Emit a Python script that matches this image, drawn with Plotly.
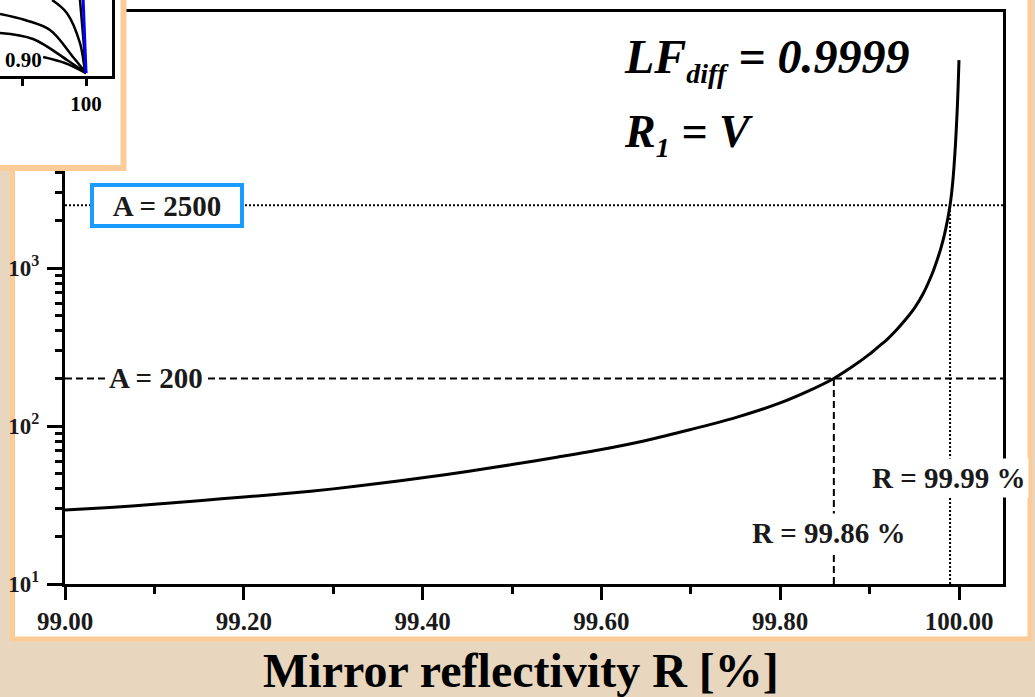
import plotly.graph_objects as go

W, H = 1035, 697

# ---------------- data ----------------
reflectivity = [99.00, 99.05, 99.10, 99.15, 99.20, 99.25, 99.30, 99.35, 99.40, 99.45,
                99.50, 99.55, 99.60, 99.65, 99.70, 99.75, 99.80, 99.83, 99.86, 99.88,
                99.90, 99.91, 99.92, 99.93, 99.94, 99.95, 99.96, 99.97, 99.975, 99.98,
                99.985, 99.99, 99.993, 99.996, 99.998, 99.999, 100.00]
amplification = [29.4, 30.5, 32, 33.7, 35.5, 37.5, 40, 43.2, 47, 51.5,
                 57, 63.5, 71, 81, 95, 113, 140, 165, 200, 236,
                 285, 318, 355, 405, 470, 555, 690, 920, 1100, 1350,
                 1750, 2500, 3500, 6000, 10000, 14000, 20700]

A_levels = [2500, 200]
A_labels = ["A = 2500", "A = 200"]
R_levels = [99.99, 99.86]
R_labels = ["R = 99.99 %", "R = 99.86 %"]

x_ticks = [99.0, 99.2, 99.4, 99.6, 99.8, 100.0]
x_ticktext = ["99.00", "99.20", "99.40", "99.60", "99.80", "100.00"]
y_ticks = [10, 100, 1000, 10000]
y_ticktext = ["10<sup>1</sup>", "10<sup>2</sup>", "10<sup>3</sup>", "10<sup>4</sup>"]
y_minor = [m * d for d in (10, 100, 1000, 10000) for m in range(2, 10)]

# inset (partial view of another chart)
inset_curves = {
    "a": ([94.7, 97.0, 99.06, 99.84, 100.0], [1.0, 0.822, 0.411, 0.042, 0.0]),
    "b": ([86.56, 90.47, 94.37, 97.97, 100.0], [0.808, 0.726, 0.589, 0.220, 0.0]),
    "c": ([86.56, 91.72, 97.03, 100.0], [0.548, 0.466, 0.179, 0.0]),
    "d": ([93.3, 96.7, 100.0], [0.220, 0.138, 0.0]),
    "e": ([99.06, 99.6, 100.0], [1.0, 0.45, 0.0]),
}
inset_blue = ([99.55, 100.0], [1.0, 0.0])

# ---------------- helpers ----------------
def px(x):
    return x / W

def py(y):
    return 1 - y / H

BG = "#E8D6BF"
ORANGE = "#FCCB98"
SERIF = "Liberation Serif"

fig = go.Figure()

# main curve
fig.add_trace(go.Scatter(x=reflectivity, y=amplification, mode="lines",
                         line=dict(color="black", width=3, shape="spline", smoothing=0.8),
                         xaxis="x", yaxis="y", hoverinfo="skip"))

# inset white box (covers the main axes in the top-left corner)
fig.add_trace(go.Scatter(x=[-5, 123.5, 123.5, -5, -5], y=[-5, -5, 168, 168, -5],
                         mode="lines", fill="toself", fillcolor="white",
                         line=dict(color=ORANGE, width=6), xaxis="x2", yaxis="y2",
                         hoverinfo="skip"))

# inset curves
for k, (xs, ys) in inset_curves.items():
    fig.add_trace(go.Scatter(x=xs, y=ys, mode="lines",
                             line=dict(color="black", width=2.5, shape="spline"),
                             xaxis="x3", yaxis="y3", hoverinfo="skip"))
fig.add_trace(go.Scatter(x=inset_blue[0], y=inset_blue[1], mode="lines",
                         line=dict(color="#0000FF", width=3), xaxis="x3", yaxis="y3",
                         hoverinfo="skip"))

# reference lines
shapes = []
# main white panel with orange frame
shapes.append(dict(type="rect", xref="paper", yref="paper",
                   x0=px(12.5), x1=px(1030), y0=py(639), y1=py(-3),
                   fillcolor="white", line=dict(color=ORANGE, width=5), layer="below"))
dash_styles = ["2px,2px", "7px,4px"]
for a, r, d in zip(A_levels, R_levels, dash_styles):
    shapes.append(dict(type="line", xref="x domain", yref="y", x0=0, x1=1, y0=a, y1=a,
                       line=dict(color="black", width=2, dash=d)))
    shapes.append(dict(type="line", xref="x", yref="y", x0=r, x1=r, y0=10, y1=a,
                       line=dict(color="black", width=2, dash=d)))

LBL = dict(family=SERIF, size=29, color="#1a1a1a", weight="bold")
annotations = []
# A = 2500 (blue box)
annotations.append(dict(xref="paper", yref="y", x=px(167), y=3.398,
                        text=A_labels[0], showarrow=False, xanchor="center", yanchor="middle",
                        font=LBL, bgcolor="white", bordercolor="#1A9BFF", borderwidth=4,
                        borderpad=2, width=142, height=33))
annotations.append(dict(xref="paper", yref="y", x=px(156), y=2.301,
                        text=A_labels[1], showarrow=False, xanchor="center", yanchor="middle",
                        font=LBL, bgcolor="white", borderpad=2))
annotations.append(dict(xref="paper", yref="paper", x=px(948), y=py(478),
                        text=R_labels[0], showarrow=False, xanchor="center", yanchor="middle",
                        font=LBL, bgcolor="white", borderpad=3))
annotations.append(dict(xref="paper", yref="paper", x=px(828), y=py(533),
                        text=R_labels[1], showarrow=False, xanchor="center", yanchor="middle",
                        font=LBL, bgcolor="white", borderpad=3))
# formulas
annotations.append(dict(xref="paper", yref="paper", x=px(622), y=py(59),
                        text="<b><i>LF<sub><span style='font-size:28px'>diff</span></sub> = 0.9999</i></b>",
                        showarrow=False, xanchor="left", yanchor="middle",
                        font=dict(family=SERIF, size=48, color="black")))
annotations.append(dict(xref="paper", yref="paper", x=px(622), y=py(134),
                        text="<b><i>R<sub><span style='font-size:28px'>1</span></sub> = V</i></b>",
                        showarrow=False, xanchor="left", yanchor="middle",
                        font=dict(family=SERIF, size=46, color="black")))
# inset label
annotations.append(dict(xref="paper", yref="paper", x=px(43), y=py(60),
                        text="<b>0.90</b>", showarrow=False, xanchor="right", yanchor="middle",
                        font=dict(family=SERIF, size=21, color="black"),
                        bgcolor="white", borderpad=0))
# axis title
annotations.append(dict(xref="paper", yref="paper", x=px(521), y=py(670),
                        text="<b>Mirror reflectivity R [%]</b>", showarrow=False,
                        xanchor="center", yanchor="middle",
                        font=dict(family=SERIF, size=48, color="black")))

fig.update_layout(
    width=W, height=H,
    margin=dict(l=0, r=0, t=0, b=0, autoexpand=False),
    paper_bgcolor=BG, plot_bgcolor="rgba(0,0,0,0)",
    showlegend=False,
    shapes=shapes,
    annotations=annotations,
    xaxis=dict(domain=[px(65), px(1003)], range=[99.0, 99.0 + 938 / 894], anchor="y",
               automargin=False,
               tickmode="array", tickvals=x_ticks, ticktext=x_ticktext,
               ticks="outside", ticklen=13, tickwidth=2.5, tickcolor="black",
               minor=dict(ticks="outside", tickmode="linear", tick0=99.0, dtick=0.1,
                          ticklen=7, tickwidth=2.5, tickcolor="black", showgrid=False),
               showline=True, linewidth=3, linecolor="black", mirror=True,
               showgrid=False, zeroline=False, ticklabelstandoff=0,
               tickfont=dict(family=SERIF, size=25, color="#1a1a1a", weight="bold")),
    yaxis=dict(domain=[py(584), py(12)], type="log", range=[1, 1 + 572 / 158], anchor="x",
               automargin=False,
               tickmode="array", tickvals=y_ticks, ticktext=y_ticktext,
               ticks="outside", ticklen=15, tickwidth=2.5, tickcolor="black",
               minor=dict(ticks="outside", tickmode="array", tickvals=y_minor,
                          ticklen=7, tickwidth=2.5, tickcolor="black", showgrid=False),
               showline=True, linewidth=3, linecolor="black", mirror=True,
               showgrid=False, zeroline=False, ticklabelstandoff=3,
               tickfont=dict(family=SERIF, size=23, color="#1a1a1a", weight="bold")),
    xaxis2=dict(domain=[0, px(130)], range=[0, 130], visible=False, anchor="y2",
                automargin=False),
    yaxis2=dict(domain=[py(175), 1], range=[175, 0], visible=False, anchor="x2",
                automargin=False),
    xaxis3=dict(domain=[0, px(112)], range=[86.56, 104.06], anchor="y3",
                automargin=False,
                tickmode="array", tickvals=[90, 100], ticktext=["", "100"],
                ticks="outside", ticklen=7, tickwidth=2.5, tickcolor="black",
                showline=True, linewidth=2.5, linecolor="black",
                showgrid=False, zeroline=False,
                tickfont=dict(family=SERIF, size=21, color="black", weight="bold")),
    yaxis3=dict(domain=[py(76), 1], range=[-0.04, 1.0], anchor="x3", side="right",
                automargin=False,
                showline=True, linewidth=2.5, linecolor="black", showticklabels=False,
                ticks="", showgrid=False, zeroline=False),
)

fig.write_html("out.html")
